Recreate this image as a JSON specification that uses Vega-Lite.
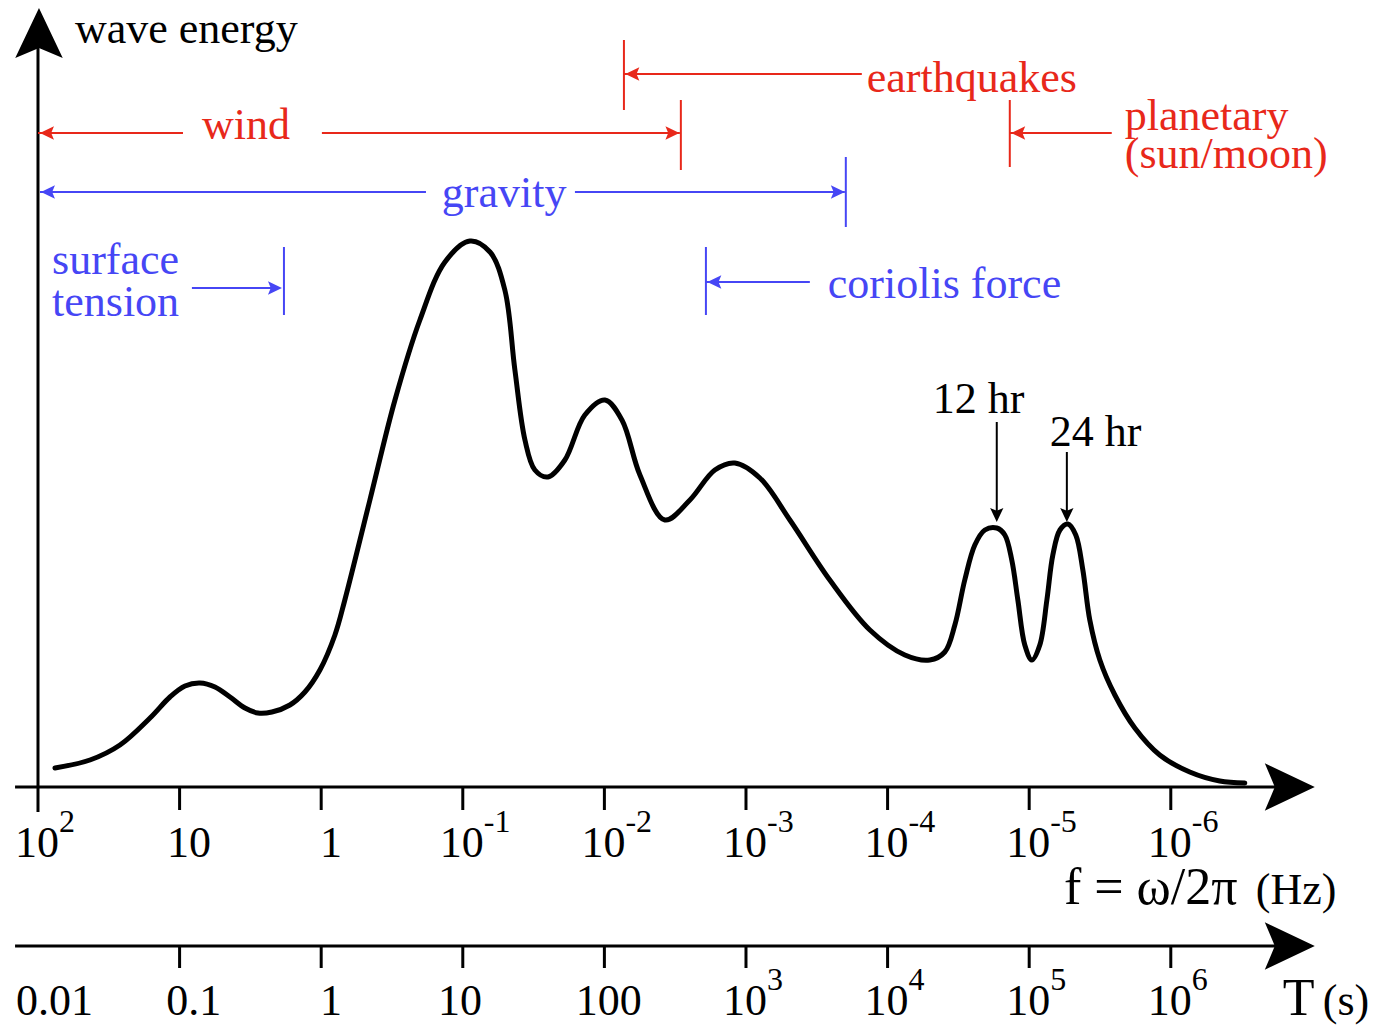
{
  "$schema": "https://vega.github.io/schema/vega-lite/v6.json",
  "width": 1380,
  "height": 1028,
  "autosize": {"type": "fit", "contains": "padding"},
  "padding": 0,
  "background": "white",
  "config": {"view": {"stroke": null}, "font": "Liberation Serif"},
  "datasets": {
    "spectrum": [
      {"x": 0.120, "y": 19}, {"x": 0.367, "y": 27}, {"x": 0.579, "y": 42}, {"x": 0.791, "y": 69},
      {"x": 0.932, "y": 90}, {"x": 1.038, "y": 101}, {"x": 1.144, "y": 104}, {"x": 1.250, "y": 100},
      {"x": 1.356, "y": 90}, {"x": 1.462, "y": 79}, {"x": 1.553, "y": 74}, {"x": 1.652, "y": 75},
      {"x": 1.779, "y": 82}, {"x": 1.885, "y": 95}, {"x": 1.991, "y": 117}, {"x": 2.097, "y": 152},
      {"x": 2.167, "y": 187}, {"x": 2.344, "y": 287},
      {"x": 2.521, "y": 387}, {"x": 2.697, "y": 467}, {"x": 2.874, "y": 525}, {"x": 3.050, "y": 546},
      {"x": 3.192, "y": 535}, {"x": 3.297, "y": 497}, {"x": 3.368, "y": 417}, {"x": 3.439, "y": 347},
      {"x": 3.509, "y": 317}, {"x": 3.601, "y": 310}, {"x": 3.721, "y": 327}, {"x": 3.862, "y": 372},
      {"x": 4.004, "y": 387}, {"x": 4.124, "y": 367}, {"x": 4.251, "y": 312}, {"x": 4.427, "y": 267},
      {"x": 4.604, "y": 287}, {"x": 4.780, "y": 317}, {"x": 4.921, "y": 324}, {"x": 5.098, "y": 309},
      {"x": 5.310, "y": 267}, {"x": 5.592, "y": 207}, {"x": 5.875, "y": 157}, {"x": 6.122, "y": 132},
      {"x": 6.298, "y": 127}, {"x": 6.404, "y": 135}, {"x": 6.475, "y": 162}, {"x": 6.545, "y": 207},
      {"x": 6.616, "y": 242}, {"x": 6.687, "y": 257}, {"x": 6.771, "y": 259}, {"x": 6.828, "y": 252},
      {"x": 6.877, "y": 227}, {"x": 6.920, "y": 187}, {"x": 6.969, "y": 142}, {"x": 7.019, "y": 127},
      {"x": 7.075, "y": 142}, {"x": 7.125, "y": 187}, {"x": 7.167, "y": 232}, {"x": 7.217, "y": 257},
      {"x": 7.273, "y": 263}, {"x": 7.329, "y": 252}, {"x": 7.379, "y": 217}, {"x": 7.428, "y": 167},
      {"x": 7.499, "y": 127}, {"x": 7.605, "y": 92}, {"x": 7.746, "y": 59}, {"x": 7.922, "y": 32},
      {"x": 8.134, "y": 15}, {"x": 8.346, "y": 6}, {"x": 8.523, "y": 4}
    ],
    "axes": [
      {"x": -0.162, "y": 0, "x2": 8.84, "y2": 0},
      {"x": -0.162, "y": -159, "x2": 8.84, "y2": -159},
      {"x": 0, "y": -25, "x2": 0, "y2": 740},
      {"x": 1, "y": 0, "x2": 1, "y2": -23},
      {"x": 2, "y": 0, "x2": 2, "y2": -23},
      {"x": 3, "y": 0, "x2": 3, "y2": -23},
      {"x": 4, "y": 0, "x2": 4, "y2": -23},
      {"x": 5, "y": 0, "x2": 5, "y2": -23},
      {"x": 6, "y": 0, "x2": 6, "y2": -23},
      {"x": 7, "y": 0, "x2": 7, "y2": -23},
      {"x": 8, "y": 0, "x2": 8, "y2": -23},
      {"x": 1, "y": -159, "x2": 1, "y2": -181},
      {"x": 2, "y": -159, "x2": 2, "y2": -181},
      {"x": 3, "y": -159, "x2": 3, "y2": -181},
      {"x": 4, "y": -159, "x2": 4, "y2": -181},
      {"x": 5, "y": -159, "x2": 5, "y2": -181},
      {"x": 6, "y": -159, "x2": 6, "y2": -181},
      {"x": 7, "y": -159, "x2": 7, "y2": -181},
      {"x": 8, "y": -159, "x2": 8, "y2": -181}
    ],
    "ranges": [
      {"x": 4.138, "y": 747, "x2": 4.138, "y2": 677, "force": "generating"},
      {"x": 4.138, "y": 713, "x2": 5.818, "y2": 713, "force": "generating"},
      {"x": 0.0, "y": 654, "x2": 1.024, "y2": 654, "force": "generating"},
      {"x": 2.005, "y": 654, "x2": 4.533, "y2": 654, "force": "generating"},
      {"x": 4.540, "y": 687, "x2": 4.540, "y2": 617, "force": "generating"},
      {"x": 6.863, "y": 687, "x2": 6.863, "y2": 620, "force": "generating"},
      {"x": 6.863, "y": 654, "x2": 7.583, "y2": 654, "force": "generating"},
      {"x": 0.014, "y": 595, "x2": 2.740, "y2": 595, "force": "restoring"},
      {"x": 3.792, "y": 595, "x2": 5.698, "y2": 595, "force": "restoring"},
      {"x": 5.705, "y": 630, "x2": 5.705, "y2": 560, "force": "restoring"},
      {"x": 1.087, "y": 499, "x2": 1.695, "y2": 499, "force": "restoring"},
      {"x": 1.737, "y": 540, "x2": 1.737, "y2": 472, "force": "restoring"},
      {"x": 4.717, "y": 540, "x2": 4.717, "y2": 472, "force": "restoring"},
      {"x": 4.717, "y": 505, "x2": 5.451, "y2": 505, "force": "restoring"},
      {"x": 6.771, "y": 365, "x2": 6.771, "y2": 270, "force": "other"},
      {"x": 7.266, "y": 335, "x2": 7.266, "y2": 270, "force": "other"}
    ],
    "heads": [
      {"x": 4.148, "y": 713, "dir": "left", "force": "generating"},
      {"x": 0.014, "y": 654, "dir": "left", "force": "generating"},
      {"x": 4.530, "y": 654, "dir": "right", "force": "generating"},
      {"x": 6.873, "y": 654, "dir": "left", "force": "generating"},
      {"x": 0.021, "y": 595, "dir": "left", "force": "restoring"},
      {"x": 5.698, "y": 595, "dir": "right", "force": "restoring"},
      {"x": 1.723, "y": 499, "dir": "right", "force": "restoring"},
      {"x": 4.727, "y": 505, "dir": "left", "force": "restoring"},
      {"x": 6.771, "y": 265, "dir": "down", "force": "other"},
      {"x": 7.266, "y": 265, "dir": "down", "force": "other"}
    ],
    "axisHeads": [
      {"x": 0.007, "y": 779, "dir": "up"},
      {"x": 9.017, "y": 0, "dir": "right"},
      {"x": 9.017, "y": -159, "dir": "right"}
    ],
    "labels": [
      {"text": "wave energy", "x": 0.261, "y": 744, "force": "other"},
      {"text": "earthquakes", "x": 5.853, "y": 695, "force": "generating"},
      {"text": "wind", "x": 1.158, "y": 648, "force": "generating"},
      {"text": "planetary", "x": 7.675, "y": 657, "force": "generating"},
      {"text": "(sun/moon)", "x": 7.675, "y": 619, "force": "generating"},
      {"text": "gravity", "x": 2.852, "y": 580, "force": "restoring"},
      {"text": "surface", "x": 0.099, "y": 513, "force": "restoring"},
      {"text": "tension", "x": 0.099, "y": 471, "force": "restoring"},
      {"text": "coriolis force", "x": 5.578, "y": 489, "force": "restoring"},
      {"text": "12 hr", "x": 6.319, "y": 374, "force": "other"},
      {"text": "24 hr", "x": 7.146, "y": 341, "force": "other"}
    ],
    "plainTicks": [
      {"text": "10", "x": 1.067, "y": -70},
      {"text": "1", "x": 2.069, "y": -70},
      {"text": "0.01", "x": 0.117, "y": -228},
      {"text": "0.1", "x": 1.100, "y": -228},
      {"text": "1", "x": 2.069, "y": -228},
      {"text": "10", "x": 2.980, "y": -228},
      {"text": "100", "x": 4.031, "y": -228}
    ],
    "powerTicks": [
      {"x": 0, "y": -70, "exp": "2"},
      {"x": 3, "y": -70, "exp": "-1"},
      {"x": 4, "y": -70, "exp": "-2"},
      {"x": 5, "y": -70, "exp": "-3"},
      {"x": 6, "y": -70, "exp": "-4"},
      {"x": 7, "y": -70, "exp": "-5"},
      {"x": 8, "y": -70, "exp": "-6"},
      {"x": 5, "y": -228, "exp": "3"},
      {"x": 6, "y": -228, "exp": "4"},
      {"x": 7, "y": -228, "exp": "5"},
      {"x": 8, "y": -228, "exp": "6"}
    ],
    "titlesMain": [
      {"text": "f = ω/2π", "x": 7.245, "y": -117},
      {"text": "T", "x": 8.791, "y": -228}
    ],
    "titlesUnit": [
      {"text": "(Hz)", "x": 8.600, "y": -117},
      {"text": "(s)", "x": 9.073, "y": -228}
    ]
  },
  "encoding": {
    "x": {"field": "x", "type": "quantitative", "scale": {"domain": [-0.2683, 9.4775], "nice": false, "zero": false}, "axis": null},
    "y": {"field": "y", "type": "quantitative", "scale": {"domain": [-241, 787], "nice": false, "zero": false}, "axis": null}
  },
  "layer": [
    {
      "data": {"name": "axes"},
      "mark": {"type": "rule", "strokeWidth": 3, "color": "black"},
      "encoding": {"x2": {"field": "x2"}, "y2": {"field": "y2"}}
    },
    {
      "data": {"name": "ranges"},
      "mark": {"type": "rule", "strokeWidth": 2},
      "encoding": {
        "x2": {"field": "x2"}, "y2": {"field": "y2"},
        "color": {"field": "force", "type": "nominal", "scale": {"domain": ["generating", "restoring", "other"], "range": ["#e8281a", "#4646f5", "#000000"]}, "legend": null}
      }
    },
    {
      "data": {"name": "spectrum"},
      "mark": {"type": "line", "interpolate": "catmull-rom", "strokeWidth": 5, "color": "black", "strokeCap": "round"},
      "encoding": {}
    },
    {
      "data": {"name": "heads"},
      "mark": {"type": "point", "filled": true, "opacity": 1, "size": 196, "strokeWidth": 0},
      "encoding": {
        "shape": {"field": "dir", "type": "nominal", "scale": {"domain": ["left", "right", "up", "down"], "range": ["M0,0 L2,-0.95 L1.6,0 L2,0.95 Z", "M0,0 L-2,-0.95 L-1.6,0 L-2,0.95 Z", "M0,0 L-0.95,2 L0,1.6 L0.95,2 Z", "M0,0 L-0.95,-2 L0,-1.6 L0.95,-2 Z"]}, "legend": null},
        "color": {"field": "force", "type": "nominal", "legend": null}
      }
    },
    {
      "data": {"name": "axisHeads"},
      "mark": {"type": "point", "filled": true, "opacity": 1, "size": 2500, "strokeWidth": 0, "color": "black"},
      "encoding": {
        "shape": {"field": "dir", "type": "nominal", "legend": null}
      }
    },
    {
      "data": {"name": "labels"},
      "mark": {"type": "text", "align": "left", "baseline": "alphabetic", "fontSize": 44, "font": "Liberation Serif"},
      "encoding": {
        "text": {"field": "text"},
        "color": {"field": "force", "type": "nominal", "legend": null}
      }
    },
    {
      "data": {"name": "plainTicks"},
      "mark": {"type": "text", "align": "center", "baseline": "alphabetic", "fontSize": 44, "font": "Liberation Serif", "color": "black"},
      "encoding": {"text": {"field": "text"}}
    },
    {
      "data": {"name": "powerTicks"},
      "mark": {"type": "text", "align": "right", "baseline": "alphabetic", "fontSize": 44, "dx": 21, "font": "Liberation Serif", "color": "black"},
      "encoding": {"text": {"value": "10"}}
    },
    {
      "data": {"name": "powerTicks"},
      "mark": {"type": "text", "align": "left", "baseline": "alphabetic", "fontSize": 32, "dx": 21, "dy": -25, "font": "Liberation Serif", "color": "black"},
      "encoding": {"text": {"field": "exp"}}
    },
    {
      "data": {"name": "titlesMain"},
      "mark": {"type": "text", "align": "left", "baseline": "alphabetic", "fontSize": 52, "font": "Liberation Serif", "color": "black"},
      "encoding": {"text": {"field": "text"}}
    },
    {
      "data": {"name": "titlesUnit"},
      "mark": {"type": "text", "align": "left", "baseline": "alphabetic", "fontSize": 44, "font": "Liberation Serif", "color": "black"},
      "encoding": {"text": {"field": "text"}}
    }
  ]
}
